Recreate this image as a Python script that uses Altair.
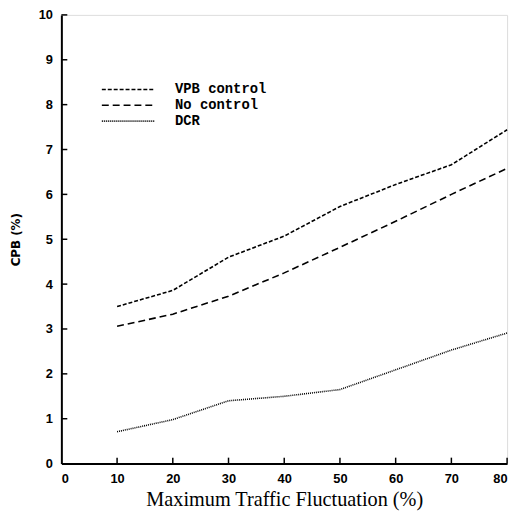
import altair as alt
import pandas as pd

x_vals = [10, 20, 30, 40, 50, 60, 70, 80]
vpb_control = [3.50, 3.86, 4.60, 5.07, 5.73, 6.22, 6.66, 7.44]
no_control = [3.06, 3.33, 3.73, 4.25, 4.82, 5.40, 6.00, 6.58]
dcr = [0.71, 0.98, 1.40, 1.50, 1.65, 2.09, 2.53, 2.91]
series = ["VPB control", "No control", "DCR"]
x_ticks = [10, 20, 30, 40, 50, 60, 70, 80]
y_ticks = [1, 2, 3, 4, 5, 6, 7, 8, 9, 10]

rows = []
for name, vals in zip(series, [vpb_control, no_control, dcr]):
    for x, y in zip(x_vals, vals):
        rows.append({"x": x, "y": y, "series": name})
df = pd.DataFrame(rows)

W, H = 451, 454

xscale = alt.Scale(domain=[0, 80], nice=False)
yscale = alt.Scale(domain=[0, 10], nice=False)

lines = alt.Chart(df).mark_line(color="black", strokeWidth=1.6).encode(
    x=alt.X("x:Q", scale=xscale,
            axis=alt.Axis(title="Maximum Traffic Fluctuation (%)", values=[0] + x_ticks,
                          grid=False, tickSize=0, labelPadding=9, domainWidth=2,
                          domainColor="black", labelColor="black",
                          labelFont="Liberation Sans", labelFontWeight="bold", labelFontSize=13,
                          titleFont="Liberation Serif", titleFontWeight="normal",
                          titleFontSize=20.5, titleColor="black", titlePadding=4)),
    y=alt.Y("y:Q", scale=yscale,
            axis=alt.Axis(title="CPB (%)", values=[0] + y_ticks, grid=False, tickSize=0,
                          labelPadding=9, domainWidth=2, domainColor="black",
                          labelColor="black", labelFont="Liberation Sans",
                          labelFontWeight="bold", labelFontSize=13,
                          titleFont="DejaVu Sans", titleFontWeight="bold",
                          titleFontSize=12, titleColor="black", titlePadding=16)),
    strokeDash=alt.StrokeDash("series:N", sort=series,
                              scale=alt.Scale(domain=series,
                                              range=[[4, 2], [7, 4], [1, 1]]),
                              legend=alt.Legend(title=None, orient="none", legendX=59,
                                                legendY=67, symbolType="M-3.5,0H3.5",
                                                symbolSize=230, symbolStrokeWidth=1.6,
                                                symbolStrokeColor="black",
                                                symbolFillColor="transparent",
                                                labelFont="Liberation Mono",
                                                labelFontWeight="bold", labelFontSize=14,
                                                labelColor="black", labelOffset=39,
                                                rowPadding=0)),
    detail="series:N",
)

xt = pd.DataFrame({"t": x_ticks})
yt = pd.DataFrame({"t": y_ticks})

xtick_layer = alt.Chart(xt).mark_rule(color="black", strokeWidth=1.5).encode(
    x=alt.X("t:Q", scale=xscale), y=alt.value(H), y2=alt.value(H - 6))
ytick_layer = alt.Chart(yt).mark_rule(color="black", strokeWidth=1.5).encode(
    y=alt.Y("t:Q", scale=yscale), x=alt.value(0), x2=alt.value(6))

chart = alt.layer(lines, xtick_layer, ytick_layer).properties(
    width=W, height=H,
    autosize=alt.AutoSizeParams(type="none"),
    padding={"left": 54, "top": 4, "right": 8, "bottom": 46},
).configure_view(stroke=None).configure(background="white")

chart.save("out.html", embed_options={"renderer": "svg", "actions": False})
